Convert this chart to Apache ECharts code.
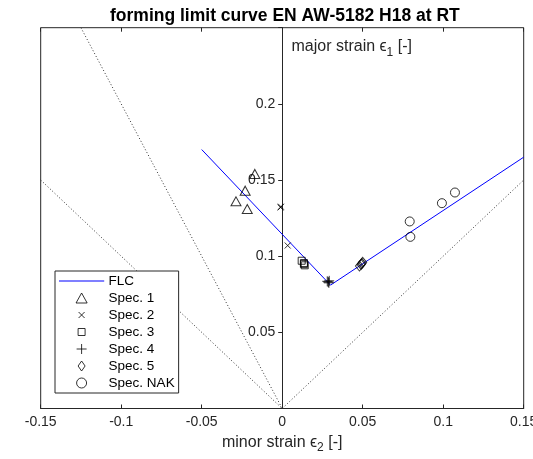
<!DOCTYPE html>
<html><head><meta charset="utf-8">
<script src="https://cdn.jsdelivr.net/npm/echarts@6/dist/echarts.min.js"></script>
<style>html,body{margin:0;padding:0;background:#fff}#c{width:533px;height:459px}</style>
</head><body><div id="c"></div>
<script>
// ---- data ----
const xTickLabels = ['-0.15','-0.1','-0.05','0','0.05','0.1','0.15'];
const yTickLabels = ['0.05','0.1','0.15','0.2'];
const flc = [[-0.05,0.17],[0.03,0.081],[0.15,0.165]];
const spec1 = [[-0.017,0.154],[-0.023,0.143],[-0.0287,0.136],[-0.0217,0.131]];
const spec2 = [[-0.001,0.132],[-0.0008,0.1325],[0.0034,0.107]];
const spec3 = [[0.0121,0.097],[0.0135,0.0948],[0.014,0.094],[0.0135,0.0955]];
const spec4 = [[0.0286,0.083],[0.029,0.0825],[0.028,0.0835],[0.0292,0.0838]];
const spec5 = [[0.049,0.0946],[0.048,0.0935],[0.050,0.096],[0.0495,0.0952]];
const specNAK = [[0.1073,0.1418],[0.0992,0.1348],[0.0792,0.1228],[0.0796,0.1127]];
const guideA = [[-0.125,0.25],[0,0]];
const guideB = [[-0.15,0.15],[0,0],[0.15,0.15]];

const FONT = '"Liberation Sans", Arial, Helvetica, sans-serif';
const AX = '#262626';
const GL = 40.7, GR = 9.3, W = 533;
const chart = echarts.init(document.getElementById('c'));
const clear = 'rgba(0,0,0,0)';
function sc(name, data, symbol, size, bw){
  return {type:'scatter', name, data, symbol, symbolSize:size, symbolKeepAspect:true, z:5,
    itemStyle:{color:clear, borderColor:'#000', borderWidth:bw||1}};
}
const xLab = v => { const i = Math.round((v+0.15)/0.05); return (Math.abs(v-(-0.15+i*0.05))<1e-9 && xTickLabels[i]!==undefined) ? xTickLabels[i] : ''; };
const yLab = v => { const i = Math.round(v/0.05)-1; return yTickLabels[i]!==undefined && i>=0 ? yTickLabels[i] : ''; };
// y axis drawn at x = 0 (middle of the x range)
const yOffset = -((W - GL - GR) / 2);

// legend icons (paths keep their aspect in the legend)
const icTri = 'path://M5,0.5L10,9.5L0,9.5Z';
const icX = 'path://M0,0M10,10M2,2L8,8M8,2L2,8';
const icSq = 'path://M0,0M10,10M1.5,1.5L8.5,1.5L8.5,8.5L1.5,8.5Z';
const icPlus = 'path://M5,0L5,10M0,5L10,5';
const icDia = 'path://M0,0M10,10M5,0L8.5,5L5,10L1.5,5Z';
const icLine = 'path://M0,0L44,0L44,0.01L0,0.01Z';

chart.setOption({
  animation:false,
  textStyle:{fontFamily:FONT},
  title:{text:'forming limit curve EN AW-5182 H18 at RT', left:105, top:2,
    textStyle:{fontSize:17.5, fontWeight:'bold', color:'#000', fontFamily:FONT}},
  grid:{left:GL, right:GR, top:27.7, bottom:50.5, containLabel:false, outerBoundsMode:'none',
    show:true, borderColor:AX, borderWidth:1, backgroundColor:'#fff'},
  xAxis:[{type:'value', min:-0.15, max:0.15, interval:0.05, position:'bottom',
    axisLine:{show:true, onZero:false, lineStyle:{color:AX}},
    axisTick:{inside:true, length:4, lineStyle:{color:AX}},
    axisLabel:{formatter:xLab, color:AX, fontSize:14, margin:7, fontFamily:FONT},
    splitLine:{show:false},
    name:'{a|minor strain ϵ}{s|2}{a| [-]}', nameLocation:'middle', nameGap:22,
    nameTextStyle:{rich:{a:{fontSize:16, color:AX, fontFamily:FONT}, s:{fontSize:12, color:AX, fontFamily:FONT, padding:[11,0,0,0]}}}
  },{type:'value', min:-0.15, max:0.15, interval:0.05, position:'top',
    axisLine:{show:false, onZero:false}, axisTick:{inside:true, length:4, lineStyle:{color:AX}},
    axisLabel:{show:false}, splitLine:{show:false}}],
  yAxis:{type:'value', min:0, max:0.25, interval:0.05, position:'left', offset:yOffset,
    axisLine:{show:true, onZero:false, lineStyle:{color:AX}},
    axisTick:{show:true, length:4, lineStyle:{color:AX}},
    axisLabel:{formatter:yLab, color:AX, fontSize:14, margin:7, fontFamily:FONT},
    splitLine:{show:false}},
  graphic:[{type:'text', left:291.5, top:39, z:10,
    style:{text:'{a|major strain ϵ}{s|1}{a| [-]}', rich:{a:{fontSize:16, fill:AX, fontFamily:FONT}, s:{fontSize:12, fill:AX, fontFamily:FONT, padding:[11,0,0,0]}}}}],
  legend:{orient:'vertical', left:55, top:271, padding:[3,4,3,4], itemWidth:44, itemHeight:10, itemGap:3,
    symbolKeepAspect:true,
    itemStyle:{borderWidth:1},
    borderColor:AX, borderWidth:1, backgroundColor:'#fff',
    textStyle:{fontSize:13.5, color:'#000', fontFamily:FONT},
    data:[{name:'FLC', icon:icLine, itemStyle:{color:'#0000ff', borderColor:'#0000ff', borderWidth:1.2}},
      {name:'Spec. 1', icon:icTri},{name:'Spec. 2', icon:icX},
      {name:'Spec. 3', icon:icSq},{name:'Spec. 4', icon:icPlus},{name:'Spec. 5', icon:icDia},'Spec. NAK']},
  series:[
    {type:'line', name:'guideA', data:guideA, symbol:'none', silent:true, z:1,
      lineStyle:{color:'#333', width:1, type:[1,2.2]}},
    {type:'line', name:'guideB', data:guideB, symbol:'none', silent:true, z:1,
      lineStyle:{color:'#333', width:1, type:[1,2.2]}},
    {type:'line', name:'FLC', data:flc, symbol:'none', z:3, color:'#0000ff',
      lineStyle:{color:'#0000ff', width:1}},
    sc('Spec. 1', spec1, 'triangle', [10,9]),
    sc('Spec. 2', spec2, 'path://M0,0L10,10M10,0L0,10', 6),
    sc('Spec. 3', spec3, 'rect', 7),
    sc('Spec. 4', spec4, 'path://M5,0L5,10M0,5L10,5', 10),
    sc('Spec. 5', spec5, 'diamond', [8,10]),
    sc('Spec. NAK', specNAK, 'circle', 9)
  ]
});
</script></body></html>
